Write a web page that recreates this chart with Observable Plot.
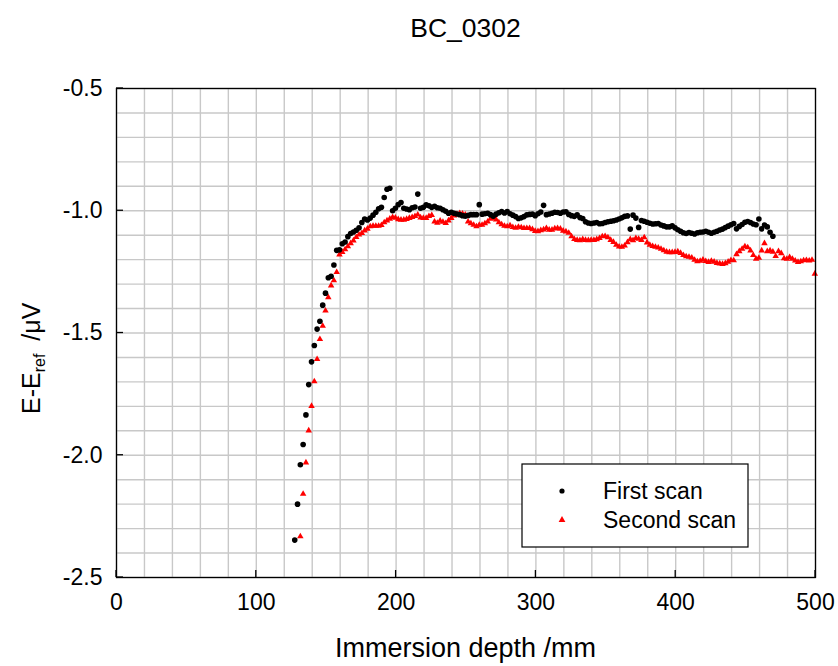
<!DOCTYPE html>
<html><head><meta charset="utf-8">
<script src="https://cdn.jsdelivr.net/npm/d3@7"></script>
<script src="https://cdn.jsdelivr.net/npm/@observablehq/plot@0.6"></script>
<style>body{margin:0;background:#fff;}</style>
</head><body><div id="chart"></div>
<script>
const chartTitle = "BC_0302";
const seriesNames = ["First scan", "Second scan"];
const xTicks = [0, 100, 200, 300, 400, 500];
const yTicks = [-2.5, -2.0, -1.5, -1.0, -0.5];

const firstDepth = [
127.5,129.5,131.5,133.5,135.5,137.5,139.5,141.5,143.5,145.5,
147.5,149.5,151.5,153.5,155.5,157.5,159.5,161.5,163.5,165.5,
167.5,169.5,171.5,173.5,175.5,177.5,179.5,181.5,183.5,185.5,
187.5,189.5,191.5,193.5,195.5,197.5,199.5,201.5,203.5,205.5,
207.5,209.5,211.5,213.5,215.5,217.5,219.5,221.5,223.5,225.5,
227.5,229.5,231.5,233.5,235.5,237.5,239.5,241.5,243.5,245.5,
247.5,249.5,251.5,253.5,255.5,257.5,259.5,261.5,263.5,265.5,
267.5,269.5,271.5,273.5,275.5,277.5,279.5,281.5,283.5,285.5,
287.5,289.5,291.5,293.5,295.5,297.5,299.5,301.5,303.5,305.5,
307.5,309.5,311.5,313.5,315.5,317.5,319.5,321.5,323.5,325.5,
327.5,329.5,331.5,333.5,335.5,337.5,339.5,341.5,343.5,345.5,
347.5,349.5,351.5,353.5,355.5,357.5,359.5,361.5,363.5,365.5,
367.5,369.5,371.5,373.5,375.5,377.5,379.5,381.5,383.5,385.5,
387.5,389.5,391.5,393.5,395.5,397.5,399.5,401.5,403.5,405.5,
407.5,409.5,411.5,413.5,415.5,417.5,419.5,421.5,423.5,425.5,
427.5,429.5,431.5,433.5,435.5,437.5,439.5,441.5,443.5,445.5,
447.5,449.5,451.5,453.5,455.5,457.5,459.5,461.5,463.5,465.5,
467.5,469.5];
const firstE = [
-2.347,-2.200,-2.039,-1.956,-1.835,-1.711,-1.618,-1.551,-1.484,-1.452,
-1.386,-1.337,-1.274,-1.268,-1.222,-1.162,-1.160,-1.135,-1.128,-1.106,
-1.093,-1.087,-1.080,-1.070,-1.048,-1.034,-1.038,-1.030,-1.018,-1.006,
-0.992,-0.986,-0.946,-0.912,-0.908,-1.000,-0.990,-0.975,-0.966,-0.990,
-0.993,-0.996,-0.988,-0.985,-0.932,-0.990,-0.986,-0.976,-0.980,-0.986,
-0.982,-0.988,-0.990,-0.996,-1.002,-1.010,-1.006,-1.010,-1.013,-1.016,
-1.020,-1.022,-1.019,-1.016,-1.016,-1.016,-0.975,-1.014,-1.012,-1.010,
-1.016,-1.022,-1.014,-1.008,-1.003,-1.009,-1.003,-1.012,-1.018,-1.024,
-1.032,-1.029,-1.024,-1.017,-1.015,-1.014,-1.020,-1.012,-1.005,-0.978,
-1.016,-1.013,-1.010,-1.006,-1.007,-1.010,-1.005,-1.004,-1.015,-1.020,
-1.023,-1.017,-1.028,-1.032,-1.045,-1.050,-1.052,-1.050,-1.048,-1.053,
-1.052,-1.048,-1.045,-1.043,-1.041,-1.038,-1.034,-1.029,-1.023,-1.021,
-1.075,-1.018,-1.030,-1.068,-1.040,-1.043,-1.047,-1.051,-1.054,-1.053,
-1.052,-1.058,-1.062,-1.066,-1.066,-1.062,-1.070,-1.078,-1.084,-1.090,
-1.093,-1.089,-1.092,-1.095,-1.090,-1.088,-1.087,-1.084,-1.088,-1.092,
-1.088,-1.084,-1.079,-1.075,-1.069,-1.063,-1.057,-1.052,-1.074,-1.064,
-1.056,-1.047,-1.044,-1.048,-1.054,-1.057,-1.034,-1.074,-1.058,-1.066,
-1.088,-1.104];

const secondDepth = [
131.5,133.5,135.5,137.5,139.5,141.5,143.5,145.5,147.5,149.5,
151.5,153.5,155.5,157.5,159.5,161.5,163.5,165.5,167.5,169.5,
171.5,173.5,175.5,177.5,179.5,181.5,183.5,185.5,187.5,189.5,
191.5,193.5,195.5,197.5,199.5,201.5,203.5,205.5,207.5,209.5,
211.5,213.5,215.5,217.5,219.5,221.5,223.5,225.5,227.5,229.5,
231.5,233.5,235.5,237.5,239.5,241.5,243.5,245.5,247.5,249.5,
251.5,253.5,255.5,257.5,259.5,261.5,263.5,265.5,267.5,269.5,
271.5,273.5,275.5,277.5,279.5,281.5,283.5,285.5,287.5,289.5,
291.5,293.5,295.5,297.5,299.5,301.5,303.5,305.5,307.5,309.5,
311.5,313.5,315.5,317.5,319.5,321.5,323.5,325.5,327.5,329.5,
331.5,333.5,335.5,337.5,339.5,341.5,343.5,345.5,347.5,349.5,
351.5,353.5,355.5,357.5,359.5,361.5,363.5,365.5,367.5,369.5,
371.5,373.5,375.5,377.5,379.5,381.5,383.5,385.5,387.5,389.5,
391.5,393.5,395.5,397.5,399.5,401.5,403.5,405.5,407.5,409.5,
411.5,413.5,415.5,417.5,419.5,421.5,423.5,425.5,427.5,429.5,
431.5,433.5,435.5,437.5,439.5,441.5,443.5,445.5,447.5,449.5,
451.5,453.5,455.5,457.5,459.5,461.5,463.5,465.5,467.5,469.5,
471.5,473.5,475.5,477.5,479.5,481.5,483.5,485.5,487.5,489.5,
491.5,493.5,495.5,497.5,499.5];
const secondE = [
-2.332,-2.158,-2.030,-1.899,-1.799,-1.698,-1.607,-1.525,-1.471,-1.409,
-1.354,-1.306,-1.285,-1.251,-1.179,-1.169,-1.158,-1.146,-1.133,-1.122,
-1.108,-1.098,-1.092,-1.081,-1.074,-1.064,-1.062,-1.062,-1.062,-1.059,
-1.048,-1.040,-1.033,-1.026,-1.029,-1.035,-1.037,-1.037,-1.034,-1.030,
-1.026,-1.022,-1.016,-1.028,-1.030,-1.030,-1.022,-1.018,-1.045,-1.050,
-1.041,-1.046,-1.051,-1.040,-1.030,-1.020,-1.014,-1.010,-1.012,-1.016,
-1.045,-1.052,-1.058,-1.064,-1.058,-1.058,-1.052,-1.045,-1.033,-1.030,
-1.036,-1.048,-1.056,-1.062,-1.064,-1.060,-1.067,-1.070,-1.066,-1.068,
-1.071,-1.071,-1.071,-1.076,-1.083,-1.084,-1.080,-1.077,-1.071,-1.078,
-1.078,-1.073,-1.071,-1.074,-1.082,-1.085,-1.091,-1.105,-1.116,-1.120,
-1.121,-1.117,-1.120,-1.121,-1.120,-1.120,-1.117,-1.112,-1.105,-1.104,
-1.109,-1.120,-1.128,-1.140,-1.147,-1.148,-1.143,-1.129,-1.117,-1.121,
-1.112,-1.115,-1.120,-1.109,-1.130,-1.140,-1.145,-1.148,-1.151,-1.156,
-1.162,-1.168,-1.170,-1.170,-1.169,-1.167,-1.173,-1.182,-1.187,-1.189,
-1.192,-1.201,-1.207,-1.205,-1.200,-1.206,-1.210,-1.205,-1.209,-1.214,
-1.216,-1.218,-1.215,-1.209,-1.202,-1.203,-1.178,-1.166,-1.156,-1.146,
-1.150,-1.163,-1.182,-1.197,-1.193,-1.163,-1.133,-1.166,-1.163,-1.168,
-1.186,-1.166,-1.174,-1.195,-1.197,-1.190,-1.197,-1.204,-1.210,-1.207,
-1.203,-1.202,-1.204,-1.201,-1.258];

const first = firstDepth.map((d, i) => ({depth: d, e: firstE[i]}));
const second = secondDepth.map((d, i) => ({depth: d, e: secondE[i]}));

const FONT = "'Liberation Sans', Arial, Helvetica, sans-serif";
const W = 838, H = 666;
const mTop = 88, mBottom = 89, mLeft = 116, mRight = 23;

const plot = Plot.plot({
  width: W, height: H,
  marginTop: mTop, marginBottom: mBottom, marginLeft: mLeft, marginRight: mRight,
  style: {fontFamily: FONT, fontSize: "23px", color: "#000", background: "#fff", overflow: "visible"},
  x: {domain: [0, 500]},
  y: {domain: [-2.5, -0.5]},
  marks: [
    Plot.gridX({ticks: 25, stroke: "#c8c8c8", strokeOpacity: 1, strokeWidth: 1.4}),
    Plot.gridY({ticks: 20, stroke: "#c8c8c8", strokeOpacity: 1, strokeWidth: 1.4}),
    Plot.axisX({ticks: xTicks, tickSize: 0, tickPadding: 16, tickFormat: d => String(d), label: null, fontSize: 23}),
    Plot.axisY({ticks: yTicks, tickSize: 0, tickPadding: 14, tickFormat: d => d.toFixed(1), label: null, fontSize: 23}),
    Plot.dot(second, {x: "depth", y: "e", symbol: "triangle", r: 2.4, fill: "#ff0000", stroke: "none"}),
    Plot.dot(first, {x: "depth", y: "e", r: 2.8, fill: "#000", stroke: "none"}),
    Plot.frame({stroke: "#000", strokeWidth: 1.3})
  ]
});
document.getElementById("chart").appendChild(plot);

const svg = d3.select(plot);
const sx = plot.scale("x"), sy = plot.scale("y");
const x0 = mLeft, x1 = W - mRight, y0 = mTop, y1 = H - mBottom;

// inward major ticks
const tg = svg.append("g").attr("stroke", "#000").attr("stroke-width", 1.3);
xTicks.forEach(v => {
  const px = sx.apply(v);
  tg.append("line").attr("x1", px).attr("x2", px).attr("y1", y1).attr("y2", y1 - 7);
});
yTicks.forEach(v => {
  const py = sy.apply(v);
  tg.append("line").attr("x1", x0).attr("x2", x0 + 7).attr("y1", py).attr("y2", py);
});

// title
svg.append("text").attr("x", (x0 + x1) / 2).attr("y", 37).attr("text-anchor", "middle")
  .attr("font-family", FONT).attr("font-size", 26.5).attr("fill", "#000").text(chartTitle);

// x label
svg.append("text").attr("x", (x0 + x1) / 2).attr("y", 657).attr("text-anchor", "middle")
  .attr("font-family", FONT).attr("font-size", 27).attr("fill", "#000").text("Immersion depth /mm");

// y label with subscript (reads bottom to top)
const yl = svg.append("text").attr("transform", `translate(40,414) rotate(-90)`)
  .attr("text-anchor", "start").attr("font-family", FONT).attr("font-size", 25).attr("fill", "#000");
yl.append("tspan").text("E-E");
yl.append("tspan").attr("font-size", 16).attr("dy", 5).text("ref");
yl.append("tspan").attr("dy", -5).attr("dx", 6).text(" /\u03BCV");

// legend
const lg = svg.append("g");
lg.append("rect").attr("x", 522).attr("y", 464).attr("width", 226).attr("height", 83)
  .attr("fill", "#fff").attr("stroke", "#000").attr("stroke-width", 1.2);
lg.append("circle").attr("cx", 562).attr("cy", 491).attr("r", 2.6).attr("fill", "#000");
lg.append("path").attr("transform", "translate(562,520)")
  .attr("d", d3.symbol(d3.symbolTriangle, 20)()).attr("fill", "#ff0000");
lg.append("text").attr("x", 603).attr("y", 499).attr("text-anchor", "start").attr("font-family", FONT).attr("font-size", 23)
  .attr("fill", "#000").text(seriesNames[0]);
lg.append("text").attr("x", 603).attr("y", 528).attr("text-anchor", "start").attr("font-family", FONT).attr("font-size", 23)
  .attr("fill", "#000").text(seriesNames[1]);
</script>
</body></html>
